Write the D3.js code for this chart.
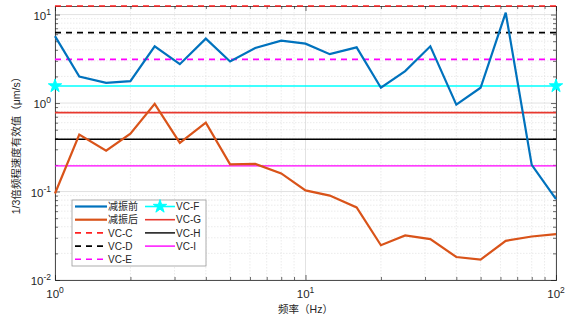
<!DOCTYPE html>
<html>
<head>
<meta charset="utf-8">
<script src="https://cdn.jsdelivr.net/npm/d3@7"></script>
<style>
  body { margin: 0; background: #fff; }
  text { font-family: "Liberation Sans", "Noto Sans CJK SC", sans-serif; }
</style>
</head>
<body>
<svg id="chart" width="568" height="320"></svg>
<script>
// 1/3-octave centre frequencies (Hz)
const freqs = [1, 1.25, 1.6, 2, 2.5, 3.15, 4, 5, 6.3, 8, 10, 12.5, 16, 20, 25, 31.5, 40, 50, 63, 80, 100];
// RMS velocity before damping (μm/s)
const before = [5.7, 1.99, 1.69, 1.77, 4.38, 2.75, 5.35, 2.95, 4.19, 5.08, 4.69, 3.57, 4.26, 1.49, 2.30, 4.38, 0.96, 1.49, 10.5, 0.2, 0.082];
// RMS velocity after damping (μm/s)
const after = [0.095, 0.44, 0.29, 0.45, 0.98, 0.355, 0.60, 0.203, 0.205, 0.16, 0.103, 0.090, 0.066, 0.0247, 0.0319, 0.029, 0.0182, 0.017, 0.0277, 0.031, 0.033];
// Vibration criteria curves
const criteriaNames = ["VC-C", "VC-D", "VC-E", "VC-F", "VC-G", "VC-H", "VC-I"];
const criteriaValues = [12.5, 6.25, 3.12, 1.56, 0.78, 0.39, 0.195];
const seriesNames = ["减振前", "减振后"];
const xTickValues = [1, 10, 100];
const xTickExps = ["0", "1", "2"];
const yTickValues = [0.01, 0.1, 1, 10];
const yTickExps = ["-2", "-1", "0", "1"];

const styles = {
  "减振前": { color: "#0072BD", dash: null, width: 2.2 },
  "减振后": { color: "#D95319", dash: null, width: 2.2 },
  "VC-C": { color: "#FF2020", dash: "6,5", width: 1.6 },
  "VC-D": { color: "#000000", dash: "6,5", width: 1.6 },
  "VC-E": { color: "#FF00FF", dash: "6,5", width: 1.6 },
  "VC-F": { color: "#00FFFF", dash: null, width: 1.6, star: true },
  "VC-G": { color: "#E8382E", dash: null, width: 1.6 },
  "VC-H": { color: "#000000", dash: null, width: 1.4 },
  "VC-I": { color: "#FF00FF", dash: null, width: 1.4 }
};

const svg = d3.select("#chart");
const L = 55, R = 556, T = 6, B = 280;

const x = d3.scaleLog().domain([1, 100]).range([L, R]);
const y = d3.scaleLog().domain([0.01, 12.5]).range([B, T]);

// minor tick / grid positions
const xMinor = [];
[1, 10].forEach(d => { for (let k = 2; k <= 9; k++) xMinor.push(d * k); });
const yMinor = [];
[0.01, 0.1, 1, 10].forEach(d => { for (let k = 2; k <= 9; k++) if (d * k <= 12.5) yMinor.push(d * k); });

const grid = svg.append("g");
grid.selectAll(".xm").data(xMinor).join("line")
  .attr("x1", d => x(d)).attr("x2", d => x(d)).attr("y1", T).attr("y2", B)
  .attr("stroke", "#e2e2e2").attr("stroke-width", 0.7).attr("stroke-dasharray", "1.5,1.5");
grid.selectAll(".ym").data(yMinor).join("line")
  .attr("y1", d => y(d)).attr("y2", d => y(d)).attr("x1", L).attr("x2", R)
  .attr("stroke", "#e2e2e2").attr("stroke-width", 0.7).attr("stroke-dasharray", "1.5,1.5");
grid.selectAll(".xM").data(xTickValues).join("line")
  .attr("x1", d => x(d)).attr("x2", d => x(d)).attr("y1", T).attr("y2", B)
  .attr("stroke", "#d6d6d6").attr("stroke-width", 0.7);
grid.selectAll(".yM").data(yTickValues).join("line")
  .attr("y1", d => y(d)).attr("y2", d => y(d)).attr("x1", L).attr("x2", R)
  .attr("stroke", "#d6d6d6").attr("stroke-width", 0.7);

// axes box with inward ticks on all sides
const axisColor = "#262626";
function styleAxis(g) {
  g.select(".domain").attr("stroke", axisColor).attr("stroke-width", 0.8);
  g.selectAll(".tick line").attr("stroke", axisColor).attr("stroke-width", 0.7);
  g.selectAll(".tick text").remove();
}
const mkX = (orient, vals, len) => orient(x).tickValues(vals).tickSize(len).tickFormat("");
const mkY = (orient, vals, len) => orient(y).tickValues(vals).tickSize(len).tickFormat("");
svg.append("g").attr("transform", `translate(0,${B})`).call(mkX(d3.axisBottom, xTickValues, -5)).call(styleAxis);
svg.append("g").attr("transform", `translate(0,${B})`).call(mkX(d3.axisBottom, xMinor, -3)).call(g => { styleAxis(g); g.select(".domain").remove(); });
svg.append("g").attr("transform", `translate(0,${T})`).call(mkX(d3.axisTop, xTickValues, -5)).call(styleAxis);
svg.append("g").attr("transform", `translate(0,${T})`).call(mkX(d3.axisTop, xMinor, -3)).call(g => { styleAxis(g); g.select(".domain").remove(); });
svg.append("g").attr("transform", `translate(${L},0)`).call(mkY(d3.axisLeft, yTickValues, -5)).call(styleAxis);
svg.append("g").attr("transform", `translate(${L},0)`).call(mkY(d3.axisLeft, yMinor, -3)).call(g => { styleAxis(g); g.select(".domain").remove(); });
svg.append("g").attr("transform", `translate(${R},0)`).call(mkY(d3.axisRight, yTickValues, -5)).call(styleAxis);
svg.append("g").attr("transform", `translate(${R},0)`).call(mkY(d3.axisRight, yMinor, -3)).call(g => { styleAxis(g); g.select(".domain").remove(); });

// tick labels as 10^n
const tickColor = "#262626";
xTickValues.forEach((v, i) => {
  const t = svg.append("text").attr("x", x(v)).attr("y", B + 18).attr("text-anchor", "middle")
    .attr("fill", tickColor).attr("font-size", 11.5);
  t.append("tspan").text("10");
  t.append("tspan").attr("dy", -5).attr("font-size", 8.5).text(xTickExps[i]);
});
yTickValues.forEach((v, i) => {
  const t = svg.append("text").attr("x", L - 4).attr("y", y(v) + 5).attr("text-anchor", "end")
    .attr("fill", tickColor).attr("font-size", 11.5);
  t.append("tspan").text("10");
  t.append("tspan").attr("dy", -5).attr("font-size", 8.5).text(yTickExps[i]);
});

// axis titles
svg.append("text").attr("x", (L + R) / 2).attr("y", 313).attr("text-anchor", "middle")
  .attr("font-size", 10.5).attr("fill", tickColor).text("频率（Hz）");
svg.append("text").attr("transform", `translate(20,${(T + B) / 2}) rotate(-90)`).attr("text-anchor", "middle")
  .attr("font-size", 10.5).attr("fill", tickColor).text("1/3倍频程速度有效值（μm/s）");

// criteria lines
const hline = d3.line().x(d => x(d[0])).y(d => y(d[1]));
const plot = svg.append("g");
criteriaNames.forEach((name, i) => {
  const s = styles[name];
  const pts = [[1, criteriaValues[i]], [100, criteriaValues[i]]];
  plot.append("path").attr("d", hline(pts)).attr("fill", "none")
    .attr("stroke", s.color).attr("stroke-width", s.width)
    .attr("stroke-dasharray", s.dash);
  if (s.star) {
    plot.selectAll(null).data(pts).join("path")
      .attr("transform", d => `translate(${x(d[0])},${y(d[1])})`)
      .attr("d", d3.symbol(d3.symbolStar, 55)())
      .attr("fill", s.color).attr("stroke", s.color);
  }
});

// measured spectra
const line = d3.line().x((d, i) => x(freqs[i])).y(d => y(d));
[after, before].forEach((vals, k) => {
  const s = styles[seriesNames[1 - k]];
  plot.append("path").attr("d", line(vals)).attr("fill", "none")
    .attr("stroke", s.color).attr("stroke-width", s.width).attr("stroke-linejoin", "miter");
});

// legend
const legend = svg.append("g");
legend.append("rect").attr("x", 72).attr("y", 200).attr("width", 134).attr("height", 66)
  .attr("fill", "#fff").attr("stroke", "#9a9a9a").attr("stroke-width", 0.8);
const legendCols = [
  { names: [seriesNames[0], seriesNames[1], "VC-C", "VC-D", "VC-E"], x0: 75, x1: 107, tx: 108 },
  { names: ["VC-F", "VC-G", "VC-H", "VC-I"], x0: 145, x1: 175, tx: 176 }
];
legendCols.forEach(col => {
  col.names.forEach((name, r) => {
    const s = styles[name];
    const yy = 206.5 + r * 13.2;
    legend.append("line").attr("x1", col.x0).attr("x2", col.x1).attr("y1", yy).attr("y2", yy)
      .attr("stroke", s.color).attr("stroke-width", s.width)
      .attr("stroke-dasharray", s.dash);
    if (s.star) {
      legend.append("path").attr("transform", `translate(${(col.x0 + col.x1) / 2},${yy})`)
        .attr("d", d3.symbol(d3.symbolStar, 55)()).attr("fill", s.color).attr("stroke", s.color);
    }
    legend.append("text").attr("x", col.tx).attr("y", yy + 3.7).attr("font-size", 10)
      .attr("fill", "#262626").text(name);
  });
});
</script>
</body>
</html>
